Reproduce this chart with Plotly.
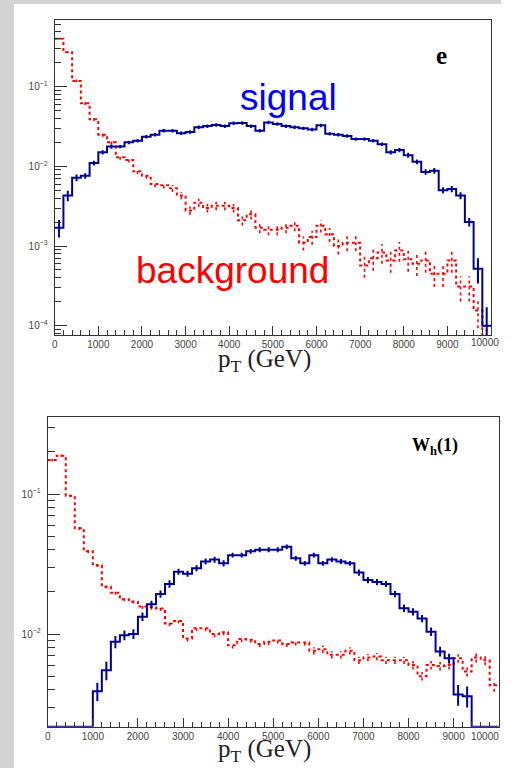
import numpy as np
import plotly.graph_objects as go

# ---------------- data (50 bins of 200 GeV, 0-10000 GeV) ----------------
bin_edges = list(range(0, 10001, 200))
x_ticks = list(range(0, 10001, 1000))
x_tick_text = [str(v) for v in x_ticks]

# top panel "e"
sig_e = [0.0017, 0.0043, 0.0072, 0.0076, 0.011, 0.015, 0.0177, 0.0177, 0.020, 0.021,
         0.0236, 0.025, 0.028, 0.028, 0.026, 0.027, 0.031, 0.032, 0.033, 0.032,
         0.0347, 0.035, 0.032, 0.028, 0.0355, 0.034, 0.032, 0.031, 0.030, 0.029,
         0.0327, 0.0256, 0.025, 0.024, 0.022, 0.022, 0.021, 0.019, 0.015, 0.016,
         0.0138, 0.0114, 0.0085, 0.0088, 0.0050, 0.0052, 0.0043, 0.0020, 0.00052, 0.00010]
sig_e_err = [0.25, 0.15, 0.10, 0.08, 0.07, 0.06, 0.06, 0.05, 0.05, 0.05,
             0.05, 0.05, 0.05, 0.05, 0.05, 0.05, 0.05, 0.05, 0.05, 0.05,
             0.05, 0.05, 0.05, 0.05, 0.05, 0.05, 0.05, 0.05, 0.05, 0.05,
             0.05, 0.05, 0.05, 0.05, 0.05, 0.05, 0.05, 0.05, 0.06, 0.06,
             0.07, 0.07, 0.08, 0.08, 0.09, 0.09, 0.10, 0.12, 0.35, 0.70]
bkg_e = [0.40, 0.27, 0.118, 0.062, 0.039, 0.025, 0.020, 0.013, 0.012, 0.0087,
         0.0076, 0.0060, 0.0058, 0.0053, 0.0043, 0.0028, 0.0035, 0.0030, 0.0032, 0.0032,
         0.0030, 0.0021, 0.0025, 0.0017, 0.0016, 0.0016, 0.0017, 0.0018, 0.0011, 0.0013,
         0.0018, 0.0014, 0.0010, 0.0011, 0.0011, 0.00057, 0.00070, 0.00083, 0.00066, 0.00088,
         0.00068, 0.00060, 0.00066, 0.00045, 0.00045, 0.00066, 0.00031, 0.00031, 0.000155, 0.00006]
bkg_e_err = [0.03, 0.03, 0.04, 0.05, 0.05, 0.06, 0.06, 0.07, 0.07, 0.08,
             0.08, 0.09, 0.09, 0.10, 0.10, 0.12, 0.12, 0.12, 0.12, 0.12,
             0.12, 0.14, 0.14, 0.15, 0.15, 0.15, 0.15, 0.15, 0.20, 0.20,
             0.18, 0.20, 0.22, 0.22, 0.22, 0.30, 0.30, 0.28, 0.30, 0.28,
             0.30, 0.30, 0.30, 0.32, 0.32, 0.30, 0.35, 0.35, 0.40, 0.50]

# bottom panel "W_h(1)"
sig_w = [0, 0, 0, 0, 0, 0.0039, 0.0055, 0.0088, 0.0098, 0.0100,
         0.0133, 0.0163, 0.0193, 0.0228, 0.0279, 0.027, 0.0295, 0.033, 0.034, 0.032,
         0.0366, 0.0366, 0.039, 0.040, 0.040, 0.040, 0.042, 0.0347, 0.032, 0.0366,
         0.032, 0.034, 0.033, 0.032, 0.0275, 0.0243, 0.0235, 0.0228, 0.0193, 0.0153,
         0.0144, 0.0129, 0.0104, 0.0075, 0.0067, 0.0037, 0.0036, 0, 0, 0]
sig_w_err = [0, 0, 0, 0, 0, 0.15, 0.15, 0.10, 0.08, 0.08,
             0.07, 0.06, 0.06, 0.06, 0.05, 0.05, 0.05, 0.05, 0.05, 0.05,
             0.04, 0.04, 0.04, 0.04, 0.04, 0.04, 0.04, 0.04, 0.04, 0.04,
             0.04, 0.04, 0.04, 0.04, 0.05, 0.05, 0.05, 0.05, 0.05, 0.06,
             0.06, 0.06, 0.07, 0.08, 0.08, 0.17, 0.17, 0, 0, 0]
bkg_w = [0.175, 0.188, 0.097, 0.057, 0.039, 0.031, 0.0218, 0.0197, 0.0177, 0.0170,
         0.0157, 0.0155, 0.0152, 0.0119, 0.0124, 0.0093, 0.0110, 0.0110, 0.0100, 0.0103,
         0.0083, 0.0092, 0.0091, 0.0085, 0.0088, 0.0090, 0.0085, 0.0087, 0.0087, 0.0076,
         0.0078, 0.0071, 0.0071, 0.0076, 0.0065, 0.0068, 0.0069, 0.0065, 0.0065, 0.0065,
         0.0060, 0.0050, 0.0060, 0.0059, 0.0060, 0.0067, 0.0054, 0.0068, 0.0065, 0.0043]
bkg_w_err = [0.02, 0.02, 0.02, 0.03, 0.03, 0.03, 0.03, 0.03, 0.03, 0.03,
             0.04, 0.04, 0.04, 0.04, 0.04, 0.05, 0.05, 0.05, 0.05, 0.05,
             0.05, 0.05, 0.05, 0.05, 0.05, 0.05, 0.05, 0.05, 0.05, 0.06,
             0.06, 0.06, 0.06, 0.06, 0.06, 0.06, 0.06, 0.06, 0.06, 0.06,
             0.07, 0.07, 0.07, 0.07, 0.07, 0.07, 0.08, 0.08, 0.08, 0.10]

# ---------------- geometry ----------------
W, H = 501, 768          # rendered figure width observed in the viewer
top_yrange = [-4.117, -0.163]
bot_yrange = [-2.662, -0.452]

SIG_COLOR = "#000099"
BKG_COLOR = "#ff0000"
AX_COLOR = "#333333"
LBL_COLOR = "#444444"


def px(x):
    return x / W


def py(y):
    return 1 - y / H


def step_xy(vals, floor):
    ys = [max(v, floor) if v > 0 else floor for v in vals]
    return bin_edges, ys + [ys[-1]]


def err_xy(vals, rel):
    xs, ys = [], []
    for i, (v, r) in enumerate(zip(vals, rel)):
        if v <= 0:
            continue
        c = (bin_edges[i] + bin_edges[i + 1]) / 2
        xs += [c, c, None]
        ys += [v * (1 - r), v * (1 + r), None]
    return xs, ys


fig = go.Figure()


def add_hist(vals, rel, color, dash, xa, ya, floor):
    sx, sy = step_xy(vals, floor)
    fig.add_trace(go.Scatter(x=sx, y=sy, mode="lines", line_shape="hv",
                             line=dict(color=color, width=2, dash=dash),
                             xaxis=xa, yaxis=ya, showlegend=False, hoverinfo="skip"))
    ex, ey = err_xy(vals, rel)
    fig.add_trace(go.Scatter(x=ex, y=ey, mode="lines",
                             line=dict(color=color, width=2 if dash == "solid" else 1.6, dash=dash),
                             xaxis=xa, yaxis=ya, showlegend=False, hoverinfo="skip"))


top_floor = 10 ** (top_yrange[0] - 0.5)
bot_floor = 10 ** bot_yrange[0]

add_hist(bkg_e, bkg_e_err, BKG_COLOR, "dot", "x", "y", top_floor)
add_hist(sig_e, sig_e_err, SIG_COLOR, "solid", "x", "y", top_floor)
add_hist(bkg_w, bkg_w_err, BKG_COLOR, "dot", "x2", "y2", bot_floor)
add_hist(sig_w, sig_w_err, SIG_COLOR, "solid", "x2", "y2", bot_floor)


def minor_log_vals(lo, hi):
    out = []
    for k in range(int(np.floor(lo)) - 1, int(np.ceil(hi)) + 1):
        for m in range(2, 10):
            out.append(m * 10.0 ** k)
    return out


def decade_ticks(lo, hi):
    vals, txt = [], []
    for k in range(int(np.ceil(lo)), int(np.floor(hi)) + 1):
        vals.append(10.0 ** k)
        txt.append("10<sup>\u2212%d</sup>" % (-k) if k < 0 else "10<sup>%d</sup>" % k)
    return vals, txt


tick_font = dict(family="Liberation Sans, Arial, sans-serif", size=10, color=LBL_COLOR)

# the last label would run past the figure edge, so it is drawn as a right-aligned note
axis_tick_text = x_tick_text[:-1] + [""]

common_x = dict(range=[0, 10000], showline=True, linecolor=AX_COLOR, linewidth=1, mirror=True,
                ticks="inside", tickcolor=AX_COLOR, tickwidth=1, ticklen=9,
                tickvals=x_ticks, ticktext=axis_tick_text, tickfont=tick_font,
                minor=dict(ticks="inside", dtick=200, ticklen=5, tickcolor=AX_COLOR, showgrid=False),
                showgrid=False, zeroline=False, fixedrange=True)

tv_top, tt_top = decade_ticks(*top_yrange)
tv_bot, tt_bot = decade_ticks(*bot_yrange)

common_y = dict(type="log", showline=True, linecolor=AX_COLOR, linewidth=1, mirror=True,
                ticks="inside", tickcolor=AX_COLOR, tickwidth=1, ticklen=12,
                tickfont=tick_font, showgrid=False, zeroline=False, ticklabelstandoff=4,
                fixedrange=True)

fig.update_layout(
    width=W, height=H, autosize=False,
    margin=dict(l=0, r=0, t=0, b=0),
    paper_bgcolor="#d3d3d3",
    plot_bgcolor="white",
    xaxis=dict(domain=[px(52), px(491)], anchor="y", **common_x),
    yaxis=dict(domain=[py(335), py(20)], anchor="x", range=top_yrange,
               tickvals=tv_top, ticktext=tt_top,
               minor=dict(ticks="inside", tickvals=minor_log_vals(*top_yrange), ticklen=6,
                          tickcolor=AX_COLOR, showgrid=False),
               **common_y),
    xaxis2=dict(domain=[px(45), px(498.7)], anchor="y2", **common_x),
    yaxis2=dict(domain=[py(726.7), py(417.3)], anchor="x2", range=bot_yrange,
                tickvals=tv_bot, ticktext=tt_bot,
                minor=dict(ticks="inside", tickvals=minor_log_vals(*bot_yrange), ticklen=7,
                           tickcolor=AX_COLOR, showgrid=False),
                **common_y),
    shapes=[dict(type="rect", xref="paper", yref="paper", x0=px(11), x1=1.0, y0=0, y1=py(4),
                 fillcolor="white", line=dict(width=0), layer="below")],
)

serif = "Liberation Serif, Times New Roman, serif"
sans = "Liberation Sans, Arial, sans-serif"
annos = [
    dict(text="signal", x=px(236), y=py(98), xanchor="left", yanchor="middle",
         font=dict(family=sans, size=37, color="#0000ff")),
    dict(text="background", x=px(132), y=py(270), xanchor="left", yanchor="middle",
         font=dict(family=sans, size=37, color="#ff0000")),
    dict(text="<b>e</b>", x=px(441), y=py(56), xanchor="center", yanchor="middle",
         font=dict(family=serif, size=25, color="black")),
    dict(text="<b>W<sub>h</sub>(1)</b>", x=px(435), y=py(446), xanchor="center", yanchor="middle",
         font=dict(family=serif, size=18, color="black")),
    dict(text="p<sub>T</sub> (GeV)", x=px(263.5), y=py(360), xanchor="center", yanchor="middle",
         font=dict(family=serif, size=25, color="#222222")),
    dict(text="p<sub>T</sub> (GeV)", x=px(263.5), y=py(750), xanchor="center", yanchor="middle",
         font=dict(family=serif, size=25, color="#222222")),
    dict(text=x_tick_text[-1], x=1.0, y=py(342), xanchor="right", yanchor="middle",
         font=tick_font),
    dict(text=x_tick_text[-1], x=1.0, y=py(736), xanchor="right", yanchor="middle",
         font=tick_font),
]
for a in annos:
    a.update(xref="paper", yref="paper", showarrow=False)
fig.update_layout(annotations=annos)

fig.write_html(
    "out.html",
    config={"displayModeBar": False, "responsive": False},
    post_script=(
        "document.documentElement.style.overflow='hidden';"
        "document.body.style.overflow='hidden';"
        "document.body.style.margin='0';document.body.style.padding='0';"
    ),
)
